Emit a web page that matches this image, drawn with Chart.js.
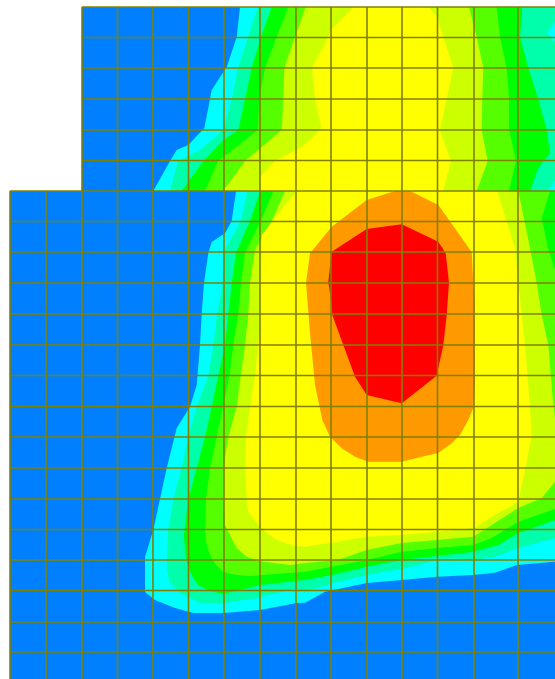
<!DOCTYPE html>
<html lang="en">
  <head>
    <meta charset="UTF-8" />
    <title>Contour</title>
    <style>
      html, body { margin: 0; padding: 0; background: #ffffff; }
      canvas { display: block; }
    </style>
    <script src="https://cdn.jsdelivr.net/npm/chart.js"></script>
  </head>
  <body>
    <canvas id="myChart" width="555" height="679"></canvas>
    <script>
      // mesh lines
      const meshX = [10, 46, 82, 117.5, 153, 188.5, 224, 260, 296, 331, 367, 402, 437.5, 474, 518];
      const meshY = [7, 37.5, 68, 99, 130, 160.5, 191, 221.5, 252, 283, 314, 345, 375.5, 406.5, 437, 468, 499, 529.5, 560, 590.5, 622, 652];
      const stepX = 82; // upper block starts here
      const stepY = 191; // lower block starts here

      // band colours, low to high
      const bandColors = ["#0080ff", "#00ffff", "#00ffaa", "#00ff00", "#55ff00", "#ccff00", "#ffff00", "#ff9900", "#ff0000"];

      // upper block contours
      const upperBase = [[82, 7], [555, 7], [555, 191], [82, 191]];
      const upperCyan = [[240, 7], [236.7, 37], [226.7, 67], [211.7, 90], [210, 99], [204.3, 128], [188.3, 145], [176.7, 150], [170, 161], [153.3, 191], [555, 191], [555, 7]];
      const upperAqua = [[257.7, 7], [248, 37], [238, 68], [231.7, 99], [223, 130], [200, 150], [178, 161], [170, 191], [548, 191], [555, 180], [555, 42], [547, 33], [555, 21], [555, 7]];
      const upperGreen = [[271.7, 7], [261, 37], [251.7, 68], [245, 99], [238.3, 130], [223.3, 140], [203.3, 161], [181.7, 191], [530, 191], [538, 168], [550, 153], [546.7, 130], [538.3, 99], [528.3, 68], [520, 37], [522.3, 7]];
      const upperLime = [[288.3, 7], [276.7, 37], [265, 68], [259, 99], [257.7, 130], [245, 140], [218, 161], [205, 191], [509, 191], [516, 161], [509.3, 130], [509, 99], [506.7, 68], [500, 37], [496.7, 7]];
      const upperChart = [[305.7, 7], [295, 37], [284.3, 68], [283.3, 99], [281.7, 130], [258, 150], [245, 161], [223, 191], [476.7, 191], [487.7, 161], [481.7, 130], [482.3, 99], [483.3, 68], [476.7, 37], [469, 7]];
      const upperYellow = [[353.3, 7], [331, 30], [328.3, 37], [315, 62], [312, 68], [315, 99], [321, 128], [315, 135], [301.7, 147], [275, 161], [260, 177], [260, 191], [443.3, 191], [451, 161], [440, 130], [453.3, 68], [436.7, 16], [428.3, 7]];

      // lower block contours
      const lowerBase = [[10, 191], [555, 191], [555, 679], [10, 679]];
      const lowerCyan = [[236, 191], [231.7, 221], [225, 233.3], [211.7, 242], [208.3, 253], [204, 282.7], [201.7, 314], [200, 345], [196.7, 385], [190, 406.7], [176.7, 428], [166.7, 468], [153.3, 530], [145, 557], [145, 592], [155, 600], [175, 608], [193.3, 613], [223.3, 613], [260, 610], [296.7, 603], [305, 602.7], [325, 591.7], [366.7, 583], [401.7, 580], [436.7, 576.7], [473.3, 575], [495, 572.7], [516.7, 565], [555, 561.7], [555, 191]];
      const lowerAqua = [[247.3, 191], [240.7, 221], [223.3, 253], [222.7, 283], [217.3, 314], [213.3, 345], [208.3, 376], [196.7, 406.7], [188.3, 436.7], [181.7, 468], [173.3, 499], [168.3, 529], [166.7, 558], [167.5, 572], [169.3, 582], [175, 588.5], [180, 593], [200, 603], [223, 603], [256.7, 598], [296.7, 588], [305, 591.7], [331.7, 583.3], [366.7, 575], [401.7, 569], [436.7, 560], [475, 560], [495, 556.7], [518.3, 548], [555, 538], [555, 191]];
      const lowerGreen = [[260, 191], [250, 221], [236, 253], [231.7, 283], [228.3, 314], [225, 345], [218.3, 376], [211.7, 407], [205, 437], [196.7, 468], [188.3, 499], [184, 535], [185, 552], [188.3, 568], [193.3, 578], [198.3, 585], [210, 591], [223.3, 594], [260, 585], [305, 580], [331.7, 575], [366.7, 566.7], [401.7, 560], [436.7, 556], [473.3, 551.7], [498.3, 545], [518.3, 533], [555, 520], [555, 191]];
      const lowerLime = [[273.3, 191], [260.7, 221], [245, 253], [241, 283], [238.3, 314], [233.3, 345], [229.3, 376], [223, 407], [216.7, 437], [210, 468], [206, 499], [205, 529], [206, 542], [210, 555], [216, 565], [223.3, 572], [236.7, 575], [250, 576], [305, 571.7], [331.7, 566.7], [366.7, 560], [401.7, 551.7], [436.7, 548], [473.3, 545], [491.7, 538], [518.3, 521.7], [555, 509], [555, 270], [548, 248], [541.7, 218], [550, 191]];
      const lowerChart = [[285, 191], [271.7, 221], [255, 250], [250, 283], [248.3, 314], [245, 345], [240.7, 376], [236.7, 407], [228.3, 437], [223.3, 468], [223.3, 499], [225, 525], [230, 535], [236.7, 548], [246.7, 556.7], [258.3, 561], [290, 565], [305, 563], [338, 560], [366.7, 550], [401.7, 543], [436.7, 540], [473.3, 536.7], [491.7, 525], [518.3, 508], [541.7, 498], [555, 481.7], [555, 418], [552.7, 398], [548.3, 345], [541.7, 315], [536.7, 283], [530, 248], [518.3, 191]];
      const lowerYellow = [[296.7, 191], [285, 205], [261.7, 235], [261.7, 253], [260, 283], [260, 314], [258, 345], [255, 376], [250, 407], [246, 437], [245, 468], [246.7, 499], [248.3, 512], [258.3, 525], [266.7, 533], [276.7, 540], [293.3, 545.7], [305, 546.7], [338, 541.7], [366.7, 536.7], [401.7, 535], [436.7, 531.7], [475, 528], [491.7, 516.7], [518.3, 501.7], [525, 470], [531.7, 436.7], [530.7, 418], [529.3, 398], [525, 345], [521.7, 314], [518.3, 283], [515, 248], [497.3, 191]];
      const lowerOrange = [[395, 191], [366.7, 200], [331.7, 226.7], [310, 253.3], [306, 282.7], [310, 333], [315, 385], [322.3, 420], [330, 436.7], [341.7, 448.3], [355, 456.7], [368, 461.7], [401.7, 461.7], [421.7, 456.7], [438.3, 453], [451.7, 443.3], [460, 435], [468.3, 420], [473.3, 408], [475, 385], [475, 302], [473.3, 283], [471.7, 252], [438.3, 205], [410, 191]];
      const lowerRed = [[401.7, 224.3], [366.7, 229], [331.7, 251.7], [328.3, 281.7], [331, 300], [332.3, 315], [343.3, 345], [355, 376.7], [366.7, 395], [401.7, 403.3], [436.7, 375.7], [443.3, 345], [446.7, 315], [449, 282.7], [445.7, 253.3], [438.3, 241.7]];

      const upperBands = [upperBase, upperCyan, upperAqua, upperGreen, upperLime, upperChart, upperYellow];
      const lowerBands = [lowerBase, lowerCyan, lowerAqua, lowerGreen, lowerLime, lowerChart, lowerYellow, lowerOrange, lowerRed];

      function bandDataset(points, color) {
        return {
          data: points.map(([x, y]) => ({ x, y })),
          showLine: true,
          fill: "shape",
          backgroundColor: color,
          borderWidth: 0,
          pointRadius: 0,
          tension: 0
        };
      }

      function meshDataset(points) {
        return {
          data: points,
          showLine: true,
          fill: false,
          borderColor: "#808000",
          borderWidth: 1.6,
          pointRadius: 0,
          tension: 0
        };
      }

      const datasets = [];
      upperBands.forEach((band, i) => datasets.push(bandDataset(band, bandColors[i])));
      lowerBands.forEach((band, i) => datasets.push(bandDataset(band, bandColors[i])));
      meshX.forEach((x) => {
        const top = x < stepX ? stepY : meshY[0];
        datasets.push(meshDataset([{ x, y: top }, { x, y: 679 }]));
      });
      meshY.forEach((y) => {
        const left = y < stepY ? stepX : meshX[0];
        datasets.push(meshDataset([{ x: left, y }, { x: 555, y }]));
      });
      // first dataset is painted last, so flip it
      datasets.reverse();

      const config = {
        type: "scatter",
        data: { datasets },
        options: {
          responsive: false,
          animation: false,
          layout: { padding: 0 },
          plugins: { legend: { display: false }, tooltip: { enabled: false } },
          scales: {
            x: { type: "linear", display: false, min: 0, max: 555 },
            y: { type: "linear", display: false, min: 0, max: 679, reverse: true }
          }
        }
      };
      const myChart = new Chart(document.getElementById("myChart"), config);
    </script>
  </body>
</html>
